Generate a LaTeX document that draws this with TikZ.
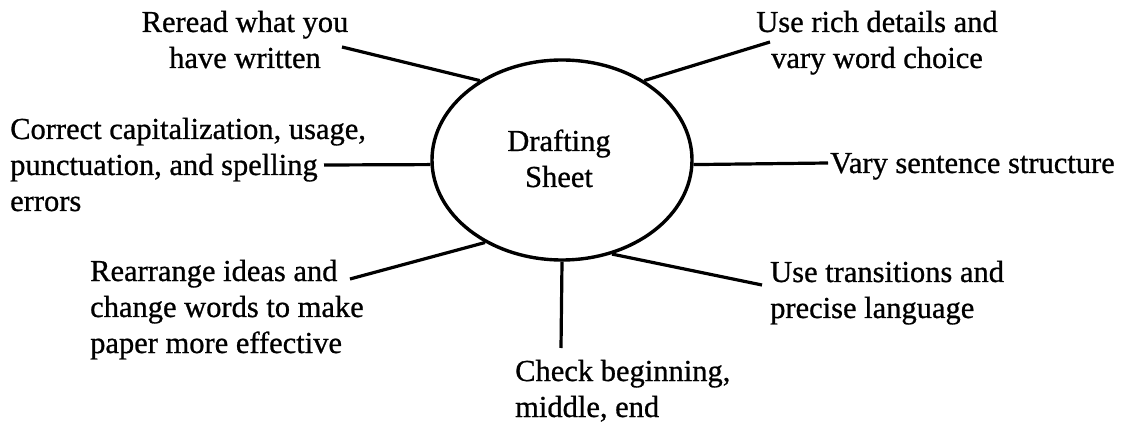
\documentclass[tikz,border=0pt]{standalone}
\usepackage{fontspec}
\setmainfont[FakeBold=0.8]{Liberation Serif}
\usetikzlibrary{shapes.geometric}
\begin{document}
\begin{tikzpicture}[x=1pt,y=-1pt,
  txt/.style={font=\fontsize{30.5}{36}\selectfont, inner sep=0pt},
  hubshape/.style={draw, ellipse, line width=3.4pt, minimum width=260pt, minimum height=200pt, inner sep=0pt},
  spoke/.style={line width=3.2pt}]
  \useasboundingbox (0,0) rectangle (1129,427);
  % central oval
  \node[hubshape] (hub) at (562,160) {};
  \node[txt, align=center, anchor=base] (hubtext) at (559,187) {Drafting\\Sheet};
  % surrounding labels (anchor = baseline of the last line)
  \node[txt, align=center, anchor=base] (reread) at (245,68) {Reread what you\\have written};
  \node[txt, align=center, anchor=base] (rich) at (877,68) {Use rich details and\\vary word choice};
  \node[txt, align=left, anchor=base west] (correct) at (10,211) {Correct capitalization, usage,\\punctuation, and spelling\\errors};
  \node[txt, anchor=base west] (vary) at (830,173) {Vary sentence structure};
  \node[txt, align=left, anchor=base west] (rearr) at (90,353) {Rearrange ideas and\\change words to make\\paper more effective};
  \node[txt, align=left, anchor=base west] (trans) at (770,318) {Use transitions and\\precise language};
  \node[txt, align=left, anchor=base west] (check) at (515,417) {Check beginning,\\middle, end};
  % free ends of the spokes
  \coordinate (e-reread) at (342,47);
  \coordinate (e-rich) at (770,42);
  \coordinate (e-correct) at (324,165);
  \coordinate (e-vary) at (828,163);
  \coordinate (e-rearr) at (350,279);
  \coordinate (e-trans) at (762,285);
  \coordinate (e-check) at (561,348);
  % spokes
  \draw[spoke] (e-reread) -- (hub.136.4);
  \draw[spoke] (e-rich) -- (hub.44.6);
  \draw[spoke] (e-correct) -- (hub.182);
  \draw[spoke] (e-vary) -- (hub.358.7);
  \draw[spoke] (e-rearr) -- (hub.227.5);
  \draw[spoke] (e-trans) -- (hub.298.5);
  \draw[spoke] (e-check) -- (hub.270);
\end{tikzpicture}
\end{document}
